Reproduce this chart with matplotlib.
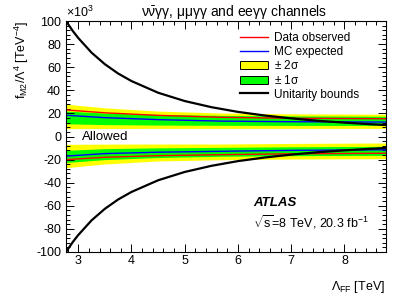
import matplotlib
matplotlib.use("Agg")
import matplotlib.pyplot as plt
from matplotlib.patches import Patch
from matplotlib.lines import Line2D
from matplotlib.ticker import MultipleLocator

plt.rcParams['font.family'] = ['Liberation Sans', 'DejaVu Sans']
plt.rcParams['mathtext.fontset'] = 'custom'
plt.rcParams['mathtext.rm'] = 'Liberation Sans'
plt.rcParams['mathtext.it'] = 'Liberation Sans:italic'
plt.rcParams['mathtext.bf'] = 'Liberation Sans:bold'
plt.rcParams['mathtext.default'] = 'regular'
plt.rcParams['axes.unicode_minus'] = False

# Unitarity bound (x1e3)
lam_u = [2.77, 2.9, 3.0, 3.25, 3.5, 3.75, 4.0, 4.5, 5.0, 5.5, 6.0, 6.5, 7.0, 7.5, 8.0, 8.5, 8.78]
unit_u = [100, 91.2, 85.3, 72.6, 62.6, 54.5, 48.0, 37.9, 30.7, 25.4, 21.3, 18.2, 15.7, 13.6, 12.0, 10.6, 9.95]

# Limits (x1e3)
lam = [2.77, 3.5, 4.5, 5.7, 7.0, 8.78]
obs_up = [23.0, 20.5, 18.3, 16.6, 15.8, 15.4]
exp_up = [18.4, 16.3, 14.6, 13.3, 12.8, 12.5]
s1_up_lo = [11.0, 10.3, 9.9, 9.7, 9.6, 9.6]
s1_up_hi = [22.0, 20.3, 19.1, 18.3, 17.8, 17.5]
s2_up_lo = [6.8, 6.9, 7.0, 7.0, 7.0, 7.0]
s2_up_hi = [28.0, 24.8, 22.0, 20.3, 19.6, 19.3]

obs_dn = [-20.0, -18.0, -16.6, -15.7, -15.0, -14.5]
exp_dn = [-17.0, -14.8, -13.6, -12.8, -12.0, -11.5]
s1_dn_lo = [-22.5, -20.0, -18.2, -17.1, -16.6, -16.3]
s1_dn_hi = [-12.0, -10.5, -9.8, -9.4, -8.9, -8.5]
s2_dn_lo = [-27.0, -23.8, -21.2, -20.1, -19.5, -19.2]
s2_dn_hi = [-6.8, -6.6, -6.5, -6.5, -6.0, -5.6]

fig = plt.figure(figsize=(4.07, 2.94), dpi=100)
ax = fig.add_axes([66/407, 1-252/294, 320/407, 231/294])

ax.fill_between(lam, s2_up_lo, s2_up_hi, color='#FFFF00', lw=0)
ax.fill_between(lam, s1_up_lo, s1_up_hi, color='#00FF00', lw=0)
ax.fill_between(lam, s2_dn_lo, s2_dn_hi, color='#FFFF00', lw=0)
ax.fill_between(lam, s1_dn_lo, s1_dn_hi, color='#00FF00', lw=0)
ax.plot(lam, obs_up, color='#FF0000', lw=1.0)
ax.plot(lam, obs_dn, color='#FF0000', lw=1.0)
ax.plot(lam, exp_up, color='#0000FF', lw=1.0)
ax.plot(lam, exp_dn, color='#0000FF', lw=1.0)
ax.plot(lam_u, unit_u, color='black', lw=1.6)
ax.plot(lam_u, [-v for v in unit_u], color='black', lw=1.6)

ax.set_xlim(2.77, 8.78)
ax.set_ylim(-100, 100)
ax.xaxis.set_major_locator(MultipleLocator(1))
ax.xaxis.set_minor_locator(MultipleLocator(0.2))
ax.yaxis.set_major_locator(MultipleLocator(20))
ax.yaxis.set_minor_locator(MultipleLocator(4))
ax.tick_params(which='both', direction='in', top=True, right=True, labelsize=9, width=0.7)
ax.tick_params(which='major', length=5.5)
ax.tick_params(which='minor', length=2.8)
ax.tick_params(axis='x', pad=2)
for s in ax.spines.values():
    s.set_linewidth(0.8)

fig.text(385/407, 1-287/294, r'$\Lambda_{FF}$ [TeV]', fontsize=9, ha='right', va='center')
ax.set_ylabel(r'f$_{M2}$/$\Lambda^4$ [TeV$^{-4}$]', fontsize=9, loc='top', labelpad=4)
ax.text(0.0, 1.005, r'$\times$10$^3$', transform=ax.transAxes, fontsize=9, ha='left', va='bottom')
fig.text(234/407, 1-12/294, r'$\nu\bar{\nu}\gamma\gamma$, $\mu\mu\gamma\gamma$ and ee$\gamma\gamma$ channels',
         fontsize=10, ha='center', va='center')

ax.text(3.07, 0, 'Allowed', fontsize=9.5, ha='left', va='center')
ax.text(6.28, -57.6, 'ATLAS', fontsize=9.5, fontweight='bold', style='italic', ha='left', va='center')
ax.text(6.28, -73.8, r'$\sqrt{s}$=8 TeV, 20.3 fb$^{-1}$', fontsize=9, ha='left', va='center')

handles = [Line2D([], [], color='#FF0000', lw=1.0),
           Line2D([], [], color='#0000FF', lw=1.0),
           Patch(facecolor='#FFFF00', edgecolor='black', lw=0.7),
           Patch(facecolor='#00FF00', edgecolor='black', lw=0.7),
           Line2D([], [], color='black', lw=1.6)]
labels = ['Data observed', 'MC expected', r'$\pm$ 2$\sigma$', r'$\pm$ 1$\sigma$', 'Unitarity bounds']
leg = ax.legend(handles, labels, loc='upper left', bbox_to_anchor=((240-66)/320, 1-(32-21)/231),
                frameon=False, fontsize=8.5, handlelength=2.4, handletextpad=0.5,
                labelspacing=0.14, borderpad=0, borderaxespad=0)

fig.savefig('out.png', dpi=100)
